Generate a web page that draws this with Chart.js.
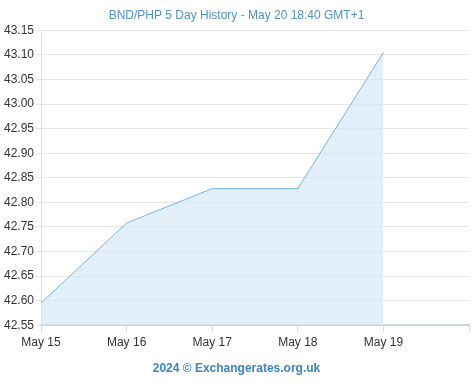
<!DOCTYPE html>
<html><head><meta charset="utf-8">
<script src="https://cdn.jsdelivr.net/npm/chart.js@4/dist/chart.umd.min.js"></script>
<style>html,body{margin:0;padding:0;background:#fff;}#wrap{width:474px;height:383px;}</style>
</head><body><div id="wrap"><canvas id="c" width="474" height="383"></canvas></div>
<script>
const categories = ['May 15','May 16','May 17','May 18','May 19',''];
const rates = [42.595, 42.758, 42.828, 42.828, 43.105, null];
const yMin = 42.55, yMax = 43.15, yStep = 0.05;
const titleText = 'BND/PHP 5 Day History - May 20 18:40 GMT+1';
const footerText = '2024 \u00A9 Exchangerates.org.uk';

new Chart(document.getElementById('c'), {
  type: 'line',
  data: { labels: categories, datasets: [{
    data: rates, borderColor: '#7ab4dc', borderWidth: 1, backgroundColor: 'rgba(214,232,247,0.7)',
    fill: 'start', pointRadius: 0, tension: 0, spanGaps: false
  }]},
  options: {
    responsive: false, animation: false, devicePixelRatio: 1,
    layout: { padding: { left: 4, right: 5, top: 0, bottom: 0 } },
    plugins: {
      legend: { display: false }, tooltip: { enabled: false },
      title: { display: true, text: titleText, color: '#4f93cc', font: { family: 'Liberation Sans', size: 12, weight: 'normal' }, padding: { top: 8, bottom: 8 } },
      subtitle: { display: true, position: 'bottom', text: footerText, color: '#3d85c6', font: { family: 'Liberation Sans', size: 12, weight: 'bold' }, padding: { top: 9, bottom: 7 } }
    },
    scales: {
      x: { offset: false,
        grid: { drawOnChartArea: false, drawTicks: true, tickLength: 7, color: '#d8dde3' },
        border: { color: '#c9d6e3', width: 2 },
        ticks: { color: '#333', font: { family: 'Liberation Sans', size: 12 }, maxRotation: 0, autoSkip: false, padding: 3 } },
      y: { min: yMin, max: yMax,
        grid: { color: '#e6e6e6', tickLength: 5 },
        border: { color: '#e0e0e0' },
        ticks: { stepSize: yStep, color: '#333', font: { family: 'Liberation Sans', size: 12 }, crossAlign: 'far', padding: 1,
          callback: v => v.toFixed(2) } }
    }
  }
});
</script></body></html>
